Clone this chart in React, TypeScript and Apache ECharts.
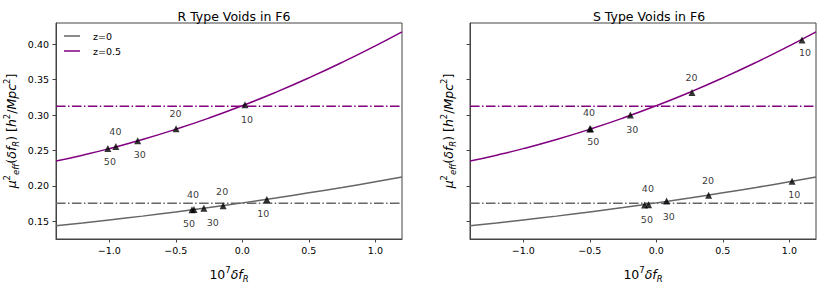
import React, { useEffect, useRef } from "react";
import * as echarts from "echarts";

// ---- data ----
const xRange = [-1.4, 1.2];
const yRange = [0.125, 0.43];
const xTicks = [-1.0, -0.5, 0.0, 0.5, 1.0];
const yTicks = [0.15, 0.2, 0.25, 0.3, 0.35, 0.4];

const curveX = [-1.4, -1.2, -1.0, -0.75, -0.5, -0.25, 0.0, 0.25, 0.5, 0.75, 1.0, 1.2];
const curveZ05 = [0.235, 0.2434, 0.2526, 0.2655, 0.2799, 0.2958, 0.3132, 0.3321, 0.3525, 0.3744, 0.3978, 0.4175];
const curveZ0 = [0.1436, 0.1476, 0.1518, 0.1573, 0.1632, 0.1694, 0.176, 0.1829, 0.1902, 0.1978, 0.2058, 0.2124];

const refZ05 = 0.3124;
const refZ0 = 0.1756;

const pointLabels = ["10", "20", "30", "40", "50"];

const rZ05X = [0.02, -0.498, -0.786, -0.95, -1.01];
const rZ05Y = [0.3147, 0.2806, 0.2638, 0.2555, 0.2528];
const rZ0X = [0.184, -0.144, -0.289, -0.363, -0.378];
const rZ0Y = [0.1808, 0.172, 0.1685, 0.1665, 0.1662];

const sZ05X = [1.095, 0.268, -0.195, -0.494, -0.5];
const sZ05Y = [0.406, 0.3317, 0.3, 0.2807, 0.2805];
const sZ0X = [1.02, 0.393, 0.077, -0.058, -0.088];
const sZ0Y = [0.2065, 0.1868, 0.1785, 0.1735, 0.173];

// label placement (pixel offsets from marker), kept apart from the data
const rZ05Off = [[2, 14.5], [-0.5, -15], [2, 13.5], [-0.5, -15], [2, 13.5]];
const rZ0Off = [[-3.5, 14], [-1, -14.5], [9, 14], [-1, -15], [-3, 13.5]];
const sZ05Off = [[3, 12.5], [-0.5, -15.5], [2, 14], [-1.5, -16], [3.5, 13]];
const sZ0Off = [[2.3, 13.6], [-0.6, -15], [2.3, 15], [-0.7, -15.7], [2.3, 14]];

const PURPLE = "#800080";
const GRAY = "#666666";
const FONT = "DejaVu Sans";

export default function App() {
  const ref = useRef<HTMLDivElement>(null);

  useEffect(() => {
    if (!ref.current) return;
    const chart = echarts.init(ref.current, undefined, { renderer: "svg" });

    const curveData = (ys: number[]) => curveX.map((x, i) => [x, ys[i]]);
    const hLine = (v: number) => [[xRange[0], v], [xRange[1], v]];
    const dashDot = [9.6, 2.4, 1.5, 2.4];

    const lineSeries = (name: string, ys: number[], color: string, gi: number) => ({
      type: "line",
      name,
      xAxisIndex: gi,
      yAxisIndex: gi,
      data: curveData(ys),
      smooth: true,
      symbol: "none",
      lineStyle: { color, width: 1.5 },
      itemStyle: { color },
      z: 2,
    });
    const refSeries = (v: number, color: string, gi: number) => ({
      type: "line",
      name: "ref",
      xAxisIndex: gi,
      yAxisIndex: gi,
      data: hLine(v),
      symbol: "none",
      lineStyle: { color, width: 1.5, type: dashDot },
      z: 1,
      silent: true,
    });
    const pts = (xs: number[], ys: number[], offs: number[][], gi: number) => ({
      type: "scatter",
      name: "pts",
      xAxisIndex: gi,
      yAxisIndex: gi,
      symbol: "triangle",
      symbolSize: 7,
      itemStyle: { color: "#000" },
      z: 5,
      data: xs.map((x, i) => ({
        value: [x, ys[i]],
        label: {
          show: true,
          position: "inside",
          offset: offs[i],
          formatter: pointLabels[i],
          color: "#000",
          fontSize: 9.5,
          fontFamily: FONT,
        },
      })),
    });

    const rich = {
      n: { fontSize: 12.5, fontFamily: FONT, color: "#000", lineHeight: 18 },
      i: { fontSize: 12.5, fontFamily: FONT, fontStyle: "italic", color: "#000", lineHeight: 18 },
      sup: { fontSize: 8.5, fontFamily: FONT, color: "#000", verticalAlign: "top", lineHeight: 9 },
      sub: { fontSize: 8.5, fontFamily: FONT, fontStyle: "italic", color: "#000", verticalAlign: "bottom", lineHeight: 9 },
    };

    const xAxis = (gi: number) => ({
      type: "value",
      gridIndex: gi,
      min: xRange[0],
      max: xRange[1],
      name: "{n|10}{sup|7}{i|δf}{sub|R}",
      nameLocation: "middle",
      nameGap: 26,
      nameTextStyle: { rich },
      axisLine: { show: true, onZero: false, lineStyle: { color: "#444", width: 1 } },
      axisTick: { show: true, length: 3.5, customValues: xTicks, lineStyle: { color: "#444" } },
      axisLabel: {
        show: true,
        customValues: xTicks,
        margin: 6,
        fontSize: 9.5,
        fontFamily: FONT,
        color: "#000",
        formatter: (v: number) => v.toFixed(1).replace("-", "−"),
      },
      splitLine: { show: false },
    });
    const yAxis = (gi: number) => ({
      type: "value",
      gridIndex: gi,
      min: yRange[0],
      max: yRange[1],
      name:
        "{i|μ}{sup|2}{sub|eff}{n|(}{i|δf}{sub|R}{n|) [}{i|h}{sup|2}{n|/}{i|Mpc}{sup|2}{n|]}",
      nameLocation: "middle",
      nameRotate: 90,
      nameGap: gi === 0 ? 36 : 13,
      nameTextStyle: { rich },
      axisLine: { show: true, onZero: false, lineStyle: { color: "#444", width: 1 } },
      axisTick: { show: true, length: 3.5, customValues: yTicks, lineStyle: { color: "#444" } },
      axisLabel: {
        show: gi === 0,
        customValues: yTicks,
        margin: 7,
        fontSize: 9.5,
        fontFamily: FONT,
        color: "#000",
        formatter: (v: number) => v.toFixed(2),
      },
      splitLine: { show: false },
    });

    const legendIcon = "path://M0,0L16,0L16,1.5L0,1.5Z";

    chart.setOption({
      animation: false,
      backgroundColor: "#fff",
      title: [
        {
          text: "R Type Voids in F6",
          left: 229,
          top: 5,
          textAlign: "center",
          textStyle: { fontSize: 12.5, fontWeight: "normal", fontFamily: FONT, color: "#000" },
        },
        {
          text: "S Type Voids in F6",
          left: 644,
          top: 5,
          textAlign: "center",
          textStyle: { fontSize: 12.5, fontWeight: "normal", fontFamily: FONT, color: "#000" },
        },
      ],
      legend: {
        data: [
          { name: "z=0", icon: legendIcon },
          { name: "z=0.5", icon: legendIcon },
        ],
        orient: "vertical",
        left: 64,
        top: 30.5,
        padding: 0,
        itemWidth: 16,
        itemHeight: 1.5,
        itemGap: 4,
        textStyle: { fontSize: 9.5, fontFamily: FONT, color: "#000", padding: [0, 0, 0, 8], lineHeight: 11 },
      },
      grid: [
        { left: 56, top: 23, width: 346, height: 222, show: true, borderColor: "#444", borderWidth: 1 },
        { left: 470, top: 23, width: 346, height: 222, show: true, borderColor: "#444", borderWidth: 1 },
      ],
      xAxis: [xAxis(0), xAxis(1)],
      yAxis: [yAxis(0), yAxis(1)],
      series: [
        refSeries(refZ0, GRAY, 0),
        refSeries(refZ05, PURPLE, 0),
        lineSeries("z=0", curveZ0, GRAY, 0),
        lineSeries("z=0.5", curveZ05, PURPLE, 0),
        pts(rZ0X, rZ0Y, rZ0Off, 0),
        pts(rZ05X, rZ05Y, rZ05Off, 0),
        refSeries(refZ0, GRAY, 1),
        refSeries(refZ05, PURPLE, 1),
        lineSeries("z=0", curveZ0, GRAY, 1),
        lineSeries("z=0.5", curveZ05, PURPLE, 1),
        pts(sZ0X, sZ0Y, sZ0Off, 1),
        pts(sZ05X, sZ05Y, sZ05Off, 1),
      ],
    });

    return () => chart.dispose();
  }, []);

  return (
    <div
      ref={ref}
      style={{ position: "fixed", left: 0, top: 0, width: 831, height: 288, background: "#fff" }}
    />
  );
}
